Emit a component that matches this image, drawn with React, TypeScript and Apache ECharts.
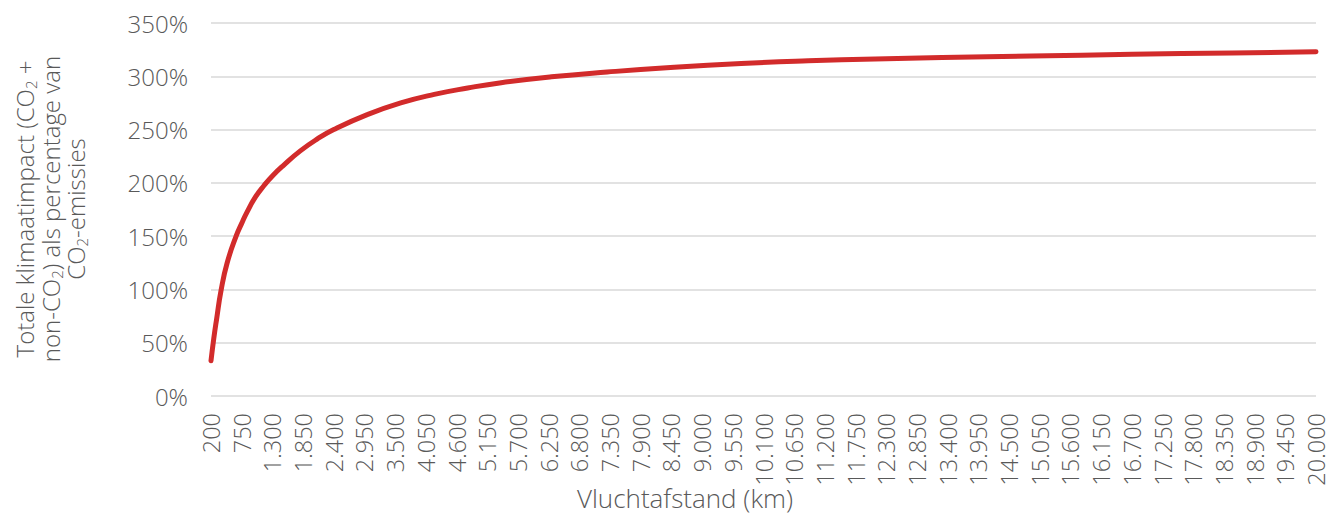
import React, { useEffect, useRef } from "react";
import * as echarts from "echarts";

// Flight distance (km) and total climate impact as % of CO2 emissions
const distancesKm = [
  200, 250, 300, 380, 490, 650, 750, 850, 1000, 1150, 1300, 1500, 1800, 2100, 2400,
  3000, 3600, 4200, 4800, 5400, 6300, 7300, 8500, 9700, 10900, 12100, 13300, 14900,
  16700, 18500, 20000,
];
const impactPct = [
  33, 54, 72, 99, 125, 150, 162, 173, 187, 197.5, 206.5, 216.5, 230, 241, 250,
  264, 275, 283, 289, 294, 299.5, 304, 308.5, 312, 314.5, 316.3, 317.6, 319,
  320.6, 321.9, 323,
];

const xMin = 200;
const xMax = 20000;
const xStep = 550;
const yMin = 0;
const yMax = 350;
const yStep = 50;

const xTitle = "Vluchtafstand (km)";
const yTitleLines = [
  "{n|Totale klimaatimpact (CO}{s|2}{n| +}",
  "{n|non-CO}{s|2}{n|) als percentage van}",
  "{n|CO}{s|2}{n|-emissies}",
];

const FONT = "'Open Sans', Lato, sans-serif";
const WEIGHT = 300;
const FS = 24;
const TEXT = "#595959";

function formatThousands(v: number): string {
  return String(Math.round(v)).replace(/\B(?=(\d{3})+(?!\d))/g, ".");
}

export default function App() {
  const ref = useRef<HTMLDivElement>(null);

  useEffect(() => {
    if (!ref.current) return;
    const chart = echarts.init(ref.current, undefined, { renderer: "svg" });

    const rich = {
      n: { fontSize: FS, fontFamily: FONT, fontWeight: WEIGHT, fill: TEXT, color: TEXT, lineHeight: 28 },
      s: {
        fontSize: 15,
        fontFamily: FONT,
        fontWeight: WEIGHT,
        fill: TEXT,
        color: TEXT,
        lineHeight: 12,
        verticalAlign: "bottom",
      },
    };

    const titleX = [24, 50, 75];

    chart.setOption({
      animation: false,
      backgroundColor: "#ffffff",
      grid: { left: 211, right: 20, top: 23, bottom: 119, containLabel: false },
      xAxis: {
        type: "value",
        min: xMin,
        max: xMax,
        interval: xStep,
        axisLine: { show: false },
        axisTick: { show: false },
        splitLine: { show: false },
        axisLabel: {
          rotate: 90,
          color: TEXT,
          fontSize: 23.5,
          fontFamily: FONT,
          fontWeight: WEIGHT,
          margin: 17,
          formatter: (v: number) => formatThousands(v),
        },
      },
      yAxis: {
        type: "value",
        min: yMin,
        max: yMax,
        interval: yStep,
        axisLine: { show: false },
        axisTick: { show: false },
        splitLine: { lineStyle: { color: "#d9d9d9", width: 1.5 } },
        axisLabel: {
          color: TEXT,
          fontSize: FS,
          fontFamily: FONT,
          fontWeight: WEIGHT,
          margin: 23,
          formatter: "{value}%",
        },
      },
      graphic: [
        ...yTitleLines.map((t, i) => ({
          type: "text",
          x: titleX[i],
          y: 209,
          rotation: Math.PI / 2,
          style: {
            text: t,
            rich,
            align: "center",
            verticalAlign: "middle",
            fill: TEXT,
            fontSize: FS,
            fontFamily: FONT,
            fontWeight: WEIGHT,
          },
        })),
        {
          type: "text",
          x: 685,
          y: 498,
          style: {
            text: xTitle,
            align: "center",
            verticalAlign: "middle",
            fill: TEXT,
            fontSize: 26,
            fontFamily: FONT,
            fontWeight: WEIGHT,
          },
        },
      ],
      series: [
        {
          type: "line",
          data: distancesKm.map((d, i) => [d, impactPct[i]]),
          smooth: 0.5,
          symbol: "none",
          showSymbol: false,
          clip: false,
          lineStyle: { color: "#D22B2B", width: 5, cap: "round", join: "round" },
        },
      ],
    });

    return () => chart.dispose();
  }, []);

  return (
    <div
      ref={ref}
      style={{ position: "fixed", left: 0, top: 0, width: 1336, height: 515 }}
    />
  );
}
